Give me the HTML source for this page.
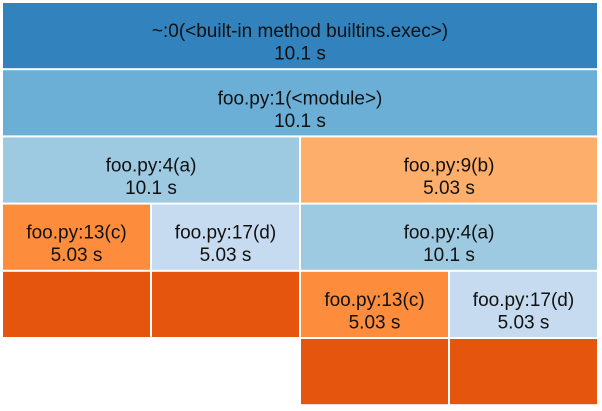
<!DOCTYPE html>
<html><head><meta charset="utf-8"><style>
body{margin:0;background:#fff;}
svg{display:block;font-family:"Liberation Sans",sans-serif;}
</style></head><body>
<svg id="chart" width="602" height="411"></svg>
<script>
const names=["~:0(<built-in method builtins.exec>)","foo.py:1(<module>)","foo.py:4(a)","foo.py:9(b)","foo.py:13(c)","foo.py:17(d)","foo.py:4(a)","","","foo.py:13(c)","foo.py:17(d)","",""];
const values=[10.1,10.1,10.1,5.03,5.03,5.03,10.1,5.03,5.03,5.03,5.03,5.03,5.03];
const labels=["10.1 s","10.1 s","10.1 s","5.03 s","5.03 s","5.03 s","10.1 s","","","5.03 s","5.03 s","",""];
const depths=[0,1,2,2,3,3,3,4,4,4,4,5,5];
const starts=[0,0,0,10.1,0,5.05,10.1,0,5.05,10.1,15.15,10.1,15.15];
const widths=[20.2,20.2,10.1,10.1,5.05,5.05,10.1,5.05,5.05,5.05,5.05,5.05,5.05];
const colors=["#3182bd","#6baed6","#9ecae1","#fdae6b","#fd8d3c","#c6dbef","#9ecae1","#e6550d","#e6550d","#fd8d3c","#c6dbef","#e6550d","#e6550d"];
const svg=document.getElementById('chart');
const NS="http://www.w3.org/2000/svg";
const x0=2,x1=598,y0=2,rowH=67.2,total=20.2;
const xs=v=>x0+v/total*(x1-x0);
const ys=d=>y0+d*rowH;
names.forEach((n,i)=>{
  const g=document.createElementNS(NS,'g');
  
  
  const r=document.createElementNS(NS,'rect');
  const x=xs(starts[i]),w=xs(starts[i]+widths[i])-x,y=ys(depths[i]);
  r.setAttribute('x',x+0.5);r.setAttribute('y',y+0.5);
  r.setAttribute('width',w-1);r.setAttribute('height',rowH-1);
  r.setAttribute('fill',colors[i]);r.setAttribute('stroke','#fff');r.setAttribute('stroke-width','1');
  
  
  g.appendChild(r);
  if(n){
    [[n,y+rowH/2+1.5],[labels[i],y+rowH/2+24]].forEach(([s,ty])=>{
      const t=document.createElementNS(NS,'text');
      t.setAttribute('x',x+w/2);t.setAttribute('y',ty);
      t.setAttribute('text-anchor','middle');t.setAttribute('font-size','19');t.setAttribute('fill','#111');
      t.textContent=s;
      
      
      g.appendChild(t);
    });
  }
  svg.appendChild(g);
});
</script>
</body></html>
